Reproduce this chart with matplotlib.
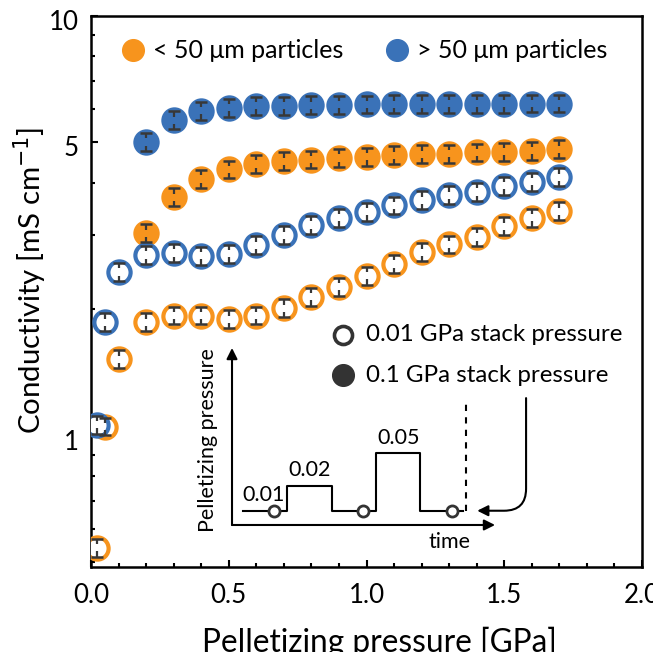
import numpy as np
import matplotlib
matplotlib.use("Agg")
import matplotlib.pyplot as plt
from matplotlib.transforms import ScaledTranslation
from matplotlib.ticker import FixedLocator, NullFormatter, MultipleLocator, FormatStrFormatter

plt.rcParams['font.family'] = ['Lato', 'DejaVu Sans']

# ---- data ----
press_open = [0.02, 0.05, 0.1, 0.2, 0.3, 0.4, 0.5, 0.6, 0.7, 0.8, 0.9,
              1.0, 1.1, 1.2, 1.3, 1.4, 1.5, 1.6, 1.7]
press_filled = [0.2, 0.3, 0.4, 0.5, 0.6, 0.7, 0.8, 0.9,
                1.0, 1.1, 1.2, 1.3, 1.4, 1.5, 1.6, 1.7]

# < 50 um, 0.01 GPa stack pressure (open orange)
small_open = [0.54, 1.05, 1.52, 1.86, 1.93, 1.93, 1.89, 1.93, 2.01, 2.14, 2.26,
              2.40, 2.56, 2.73, 2.85, 2.97, 3.15, 3.30, 3.42]
# > 50 um, 0.01 GPa stack pressure (open blue)
large_open = [1.06, 1.86, 2.45, 2.69, 2.72, 2.68, 2.71, 2.84, 3.00, 3.17, 3.30,
              3.41, 3.53, 3.63, 3.73, 3.80, 3.93, 4.02, 4.12]
# < 50 um, 0.1 GPa stack pressure (filled orange)
small_filled = [3.03, 3.69, 4.08, 4.30, 4.43, 4.50, 4.54, 4.58,
                4.61, 4.65, 4.67, 4.69, 4.72, 4.74, 4.76, 4.80]
# > 50 um, 0.1 GPa stack pressure (filled blue)
large_filled = [5.00, 5.63, 5.93, 6.03, 6.10, 6.10, 6.12, 6.13,
                6.14, 6.15, 6.15, 6.16, 6.16, 6.16, 6.17, 6.17]

err_factor = 1.05   # relative error bar

# inset schematic: pelletizing pressure steps over time
step_edges = [0.5, 2.5, 4.55, 6.55, 8.55, 10.5]
step_press = [0.01, 0.02, 0.01, 0.05, 0.01]
step_labels = ['0.01', '0.02', None, '0.05', None]
measure_t = [1.9, 5.95, 10.0]

ORANGE = '#F7941D'
BLUE = '#3A72B8'
DARK = '#333333'
ERRC = '#383838'

# ---- figure ----
fig = plt.figure(figsize=(6.53, 6.52), dpi=100)
ax = fig.add_axes([0.1394, 0.1308, 0.8438, 0.8454])
ax.set_yscale('log')
ax.set_xlim(0, 2.0)
ax.set_ylim(0.487, 10)


def draw_series(x, y, color, filled, z):
    ax.plot(x, y, 'o', ls='none', ms=16, mew=3, mec=color,
            mfc=color if filled else 'white', zorder=z)


def draw_err(x, y):
    x = np.asarray(x)
    y = np.asarray(y)
    hi, lo = y * err_factor, y / err_factor
    ax.vlines(x, y * err_factor ** 0.4, hi, color=ERRC, lw=1.6, zorder=10)
    ax.vlines(x, lo, y / err_factor ** 0.4, color=ERRC, lw=1.6, zorder=10)
    ax.plot(x, hi, '_', ls='none', color=ERRC, ms=8.5, mew=1.8, zorder=10)
    ax.plot(x, lo, '_', ls='none', color=ERRC, ms=8.5, mew=1.8, zorder=10)


draw_series(press_filled, small_filled, ORANGE, True, 3)
draw_series(press_filled, large_filled, BLUE, True, 4)
draw_series(press_open, small_open, ORANGE, False, 5)
draw_series(press_open, large_open, BLUE, False, 6)
for xs, ys in [(press_filled, small_filled), (press_filled, large_filled),
               (press_open, small_open), (press_open, large_open)]:
    draw_err(xs, ys)

# ticks
ax.yaxis.set_major_locator(FixedLocator([1, 5, 10]))
ax.yaxis.set_major_formatter(FormatStrFormatter('%g'))
ax.yaxis.set_minor_locator(FixedLocator([0.5, 0.6, 0.7, 0.8, 0.9, 2, 3, 4, 6, 7, 8, 9]))
ax.yaxis.set_minor_formatter(NullFormatter())
ax.xaxis.set_major_locator(MultipleLocator(0.5))
ax.xaxis.set_major_formatter(FormatStrFormatter('%.1f'))
ax.xaxis.set_minor_locator(MultipleLocator(0.1))
ax.tick_params(which='both', direction='in', width=1.5, labelsize=18.6)
ax.tick_params(which='major', length=5)
ax.tick_params(which='minor', length=3)
ax.tick_params(axis='x', which='major', pad=12)
ax.tick_params(axis='y', which='major', pad=9)
for s in ax.spines.values():
    s.set_linewidth(1.8)
# y tick labels sit slightly below their ticks in the reference
for lab in ax.get_yticklabels():
    lab.set_transform(lab.get_transform() + ScaledTranslation(0, -3 / 72, fig.dpi_scale_trans))

ax.set_xlabel('Pelletizing pressure [GPa]', fontsize=22.8)
ax.set_ylabel('Conductivity [mS cm$^{-1}$]', fontsize=21.2)
ax.xaxis.set_label_coords(0.523, -0.108)
ax.yaxis.set_label_coords(-0.077, 0.52)

# legend: particle size
ax.plot([0.0757], [0.9374], 'o', color=ORANGE, ms=15.6, transform=ax.transAxes, clip_on=False)
ax.text(0.113, 0.9374, '< 50 \u03bcm particles', fontsize=18, va='center', transform=ax.transAxes)
ax.plot([0.5548], [0.9374], 'o', color=BLUE, ms=15.6, transform=ax.transAxes, clip_on=False)
ax.text(0.5922, 0.9374, '> 50 \u03bcm particles', fontsize=18, va='center', transform=ax.transAxes)

# legend: stack pressure
ax.plot([0.4568], [0.4204], 'o', mfc='white', mec=DARK, ms=13, mew=2.6, transform=ax.transAxes)
ax.text(0.4985, 0.4204, '0.01 GPa stack pressure', fontsize=17.4, va='center', transform=ax.transAxes)
ax.plot([0.4568], [0.3478], 'o', color=DARK, ms=15.6, transform=ax.transAxes)
ax.text(0.4985, 0.3478, '0.1 GPa stack pressure', fontsize=17.4, va='center', transform=ax.transAxes)

# ---- inset schematic ----
ax_in = fig.add_axes([0.3553, 0.1948, 0.4028, 0.2715])
ax_in.set_yscale('log')
ax_in.set_xlim(0, 11.95)
ax_in.set_ylim(0.0067, 0.964)
ax_in.axis('off')

arrow_kw = dict(arrowstyle='-|>', lw=1.5, color='black', mutation_scale=16,
                shrinkA=0, shrinkB=0)
ax_in.annotate('', xy=(1, 0), xytext=(0, 0), xycoords='axes fraction',
               textcoords='axes fraction', arrowprops=arrow_kw)
ax_in.annotate('', xy=(0, 1), xytext=(0, 0), xycoords='axes fraction',
               textcoords='axes fraction', arrowprops=arrow_kw)

ax_in.plot(step_edges, step_press + [step_press[-1]], drawstyle='steps-post',
           color='black', lw=1.5)
for i, lab in enumerate(step_labels):
    if lab:
        mid = (step_edges[i] + step_edges[i + 1]) / 2
        ax_in.annotate(lab, (mid, step_press[i]), xytext=(-1 if i == 0 else 0, 4),
                       textcoords='offset points', ha='center', va='bottom', fontsize=15.5)
ax_in.plot(measure_t, [step_press[0]] * len(measure_t), 'o', mfc='white', mec=DARK,
           ms=8, mew=2, zorder=5)
ax_in.plot([10.62, 10.62], [0.01, 0.22], color='black', lw=1.5, ls=(0, (3, 3)))

ax_in.text(-0.09, 0.48, 'Pelletizing pressure', rotation=90, fontsize=15.5,
           ha='center', va='center', transform=ax_in.transAxes)
ax_in.text(0.826, -0.094, 'time', fontsize=15.5, ha='center', va='center',
           transform=ax_in.transAxes)

ax_in.annotate('', xy=(11.14, 0.01), xytext=(13.36, 0.236),
               arrowprops=dict(arrowstyle='-|>', lw=1.5, color='black', mutation_scale=16,
                               shrinkA=0, shrinkB=0,
                               connectionstyle='angle,angleA=-90,angleB=180,rad=22'),
               annotation_clip=False)

fig.savefig('out.png', dpi=100)
